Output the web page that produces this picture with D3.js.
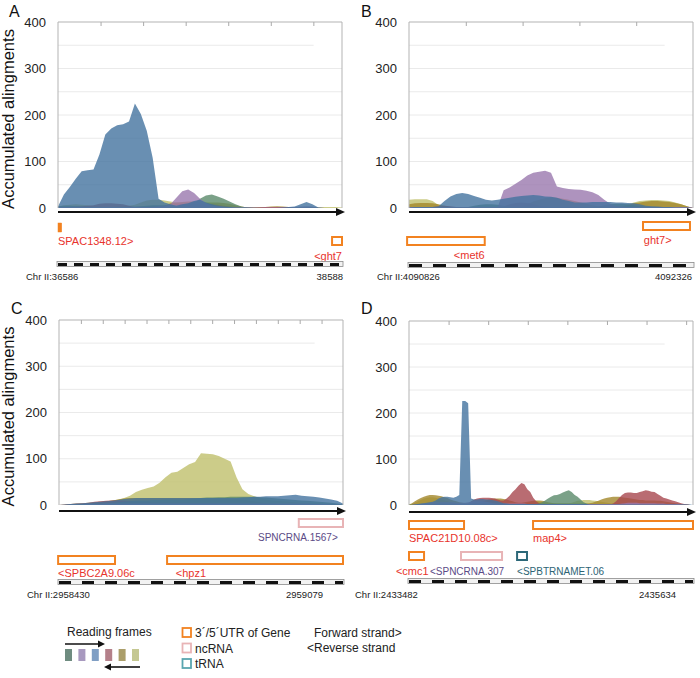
<!DOCTYPE html>
<html><head><meta charset="utf-8">
<script src="https://cdn.jsdelivr.net/npm/d3@7"></script>
<style>body{margin:0;background:#fff}svg{display:block;font-family:"Liberation Sans",Arial,sans-serif}</style>
</head><body><svg id="chart" width="700" height="678"></svg>
<script>
// ---------------- DATA ----------------
const frameNames = ["+1","+2","+3","-1","-2","-3"];
const yTicks = [0,100,200,300,400];
const gridValues = [50,100,150,200,250,300,350];

// Panel A (Chr II:36586-38588), 49 bins
const greenA  = [4,5,5,4,3,2,2,2,2,2,2,2,2,3,4,5,6,6,6,6,6,7,8,12,20,27,29,25,20,14,8,3,1,1,0,0,0,0,0,0,1,1,1,1,0,0,0,0,0];
const purpleA = [2,2,2,2,2,2,2,2,2,2,2,2,2,2,2,2,2,3,4,8,22,36,40,32,20,10,5,3,2,1,1,1,1,1,1,1,1,1,1,1,2,3,4,3,1,0,0,0,0];
const blueA   = [3,29,45,63,79,81,83,115,158,171,178,180,186,225,202,166,108,20,12,8,5,8,10,15,18,12,8,5,3,2,1,1,1,0,0,0,0,0,1,2,3,8,13,8,1,0,0,0,0];
const redA    = [1,1,2,3,4,5,6,9,10,10,9,8,5,2,2,2,3,4,5,6,7,8,8,9,9,8,8,7,5,3,2,1,1,1,1,2,2,2,2,2,1,1,1,0,0,0,0,0,0];
const oliveA  = [1,1,2,2,2,2,2,2,2,2,2,2,2,2,3,4,5,5,5,10,12,13,14,14,13,12,12,12,11,9,6,3,1,1,2,2,3,4,3,2,1,1,1,1,0,0,0,0,0];
const yellowA = [3,6,7,8,7,6,4,3,2,2,3,4,5,7,12,16,18,18,16,14,12,10,9,8,8,8,7,6,5,4,3,2,1,1,1,1,1,1,1,1,1,1,1,2,2,2,2,2,1];

// Panel B (Chr II:4090826-4092326), 49 bins
const greenB  = [1,1,1,1,1,1,1,1,1,1,2,5,7,8,8,7,5,3,2,2,2,2,2,2,2,2,2,2,2,2,2,2,3,6,8,9,9,8,6,4,2,2,2,2,2,2,1,1,0];
const purpleB = [2,2,2,2,2,2,2,2,2,2,2,2,2,2,2,2,38,44,52,60,70,76,78,80,76,46,43,41,40,39,37,34,28,18,9,4,3,2,2,2,2,2,2,2,2,2,2,2,1];
const blueB   = [1,2,2,2,2,4,15,25,30,32,30,26,22,18,16,18,20,22,24,26,27,28,27,25,24,22,18,15,12,12,12,13,13,13,13,12,12,11,10,8,5,4,3,2,2,1,1,1,0];
const redB    = [1,1,1,1,2,3,5,4,2,1,1,1,1,1,1,2,4,8,11,12,11,8,5,3,2,2,2,2,1,1,1,1,1,1,1,1,1,1,1,1,1,1,1,1,1,1,1,1,0];
const oliveB  = [8,10,11,11,10,8,5,2,1,1,1,1,1,1,1,1,2,2,2,4,8,14,18,21,23,22,20,18,15,12,9,6,4,3,3,3,3,6,10,12,14,15,15,14,13,11,8,4,0];
const yellowB = [18,19,19,19,15,6,2,1,1,1,1,1,1,1,1,1,1,1,1,1,1,1,1,1,1,1,1,1,1,1,1,1,1,2,2,3,4,8,12,15,16,17,17,16,15,12,8,4,0];

// Panel C (Chr II:2958430-2959079), 49 bins
const greenC  = [0,0,1,1,2,2,3,3,4,5,6,7,8,9,10,10,11,11,12,12,12,12,13,14,15,16,16,17,17,18,18,18,18,18,17,16,15,14,13,12,11,10,9,8,7,6,5,3,1];
const purpleC = [0,0,1,1,1,2,2,2,3,3,3,3,3,3,3,3,3,3,3,3,3,3,3,3,3,3,3,3,3,3,3,3,3,3,3,3,3,3,3,3,3,3,3,2,2,2,1,1,0];
const blueC   = [0,1,2,3,4,5,6,7,8,9,11,13,14,15,15,15,15,15,15,15,15,15,15,15,15,15,15,15,15,15,15,16,17,18,18,19,19,19,20,21,22,20,19,18,16,14,12,9,3];
const redC    = [0,1,2,3,4,5,7,8,9,10,10,9,8,8,7,7,6,6,6,5,5,5,5,4,4,4,4,3,3,3,3,3,3,2,2,2,2,2,2,2,2,1,1,1,1,1,1,0,0];
const oliveC  = [0,0,1,1,2,3,4,6,8,10,12,14,15,15,15,15,15,15,15,15,15,15,15,15,15,15,15,15,15,14,13,12,10,8,6,4,3,2,2,2,2,1,1,1,1,1,1,0,0];
const yellowC = [0,1,2,3,4,5,6,7,8,9,12,15,20,28,33,37,40,48,60,70,72,80,88,93,112,111,110,106,100,94,60,34,24,19,15,12,10,9,8,7,6,5,4,3,3,2,2,1,0];

// Panel D (Chr II:2433482-2435634), 97 bins
const greenD  = [1,1,1,2,2,3,3,3,3,3, 3,3,3,3,2,2,2,2,2,2, 2,2,2,2,2,2,2,2,2,2, 2,2,2,2,2,2,2,2,2,2, 2,2,2,2,3,6,10,14,18,21, 22,24,27,30,32,28,22,18,12,6, 3,1,1,1,1,1,1,1,1,1, 1,1,1,1,1,1,1,1,1,1, 1,1,1,1,1,1,1,1,1,1, 1,1,1,1,0,0,0];
const purpleD = [0,0,1,1,2,3,4,5,6,6, 6,6,6,6,6,6,5,5,5,5, 6,7,8,8,8,8,7,6,5,4, 3,3,3,3,3,3,3,3,3,3, 2,2,2,2,2,2,2,2,2,2, 2,2,2,2,2,2,2,2,2,2, 2,2,2,2,2,2,2,2,2,2, 2,2,3,4,5,5,5,5,4,4, 4,4,4,4,3,3,3,2,2,2, 2,2,1,1,1,0,0];
const blueD   = [0,0,1,2,3,4,5,6,7,10, 14,17,18,18,17,16,18,22,226,226, 221,14,12,12,13,13,12,12,11,10, 8,6,4,3,2,2,2,2,2,2, 2,2,2,2,2,2,2,2,2,2, 2,2,2,2,2,2,2,2,2,2, 2,1,1,1,1,1,1,1,1,1, 1,1,1,1,1,1,1,1,1,1, 1,1,1,1,1,1,1,1,1,1, 1,1,1,1,1,1,0];
const redD    = [0,0,1,1,1,1,1,1,1,1, 1,1,1,1,1,1,1,1,1,2, 3,8,12,14,15,16,16,16,15,14, 12,10,10,14,20,28,34,42,48,45, 34,28,16,8,4,2,1,1,1,1, 1,1,1,1,1,1,1,1,1,1, 1,1,1,1,1,1,1,1,1,3, 8,15,22,26,27,27,26,26,28,30, 32,31,29,28,24,20,16,14,12,10, 8,6,4,2,1,0,0];
const oliveD  = [1,4,8,12,15,18,20,22,22,21, 20,19,17,15,12,10,8,6,5,4, 3,3,4,5,6,8,10,12,13,14, 14,14,13,12,10,8,6,5,5,6, 7,8,9,10,10,9,8,6,5,4, 3,3,3,3,3,3,3,3,3,3, 3,4,5,7,9,12,14,16,17,18, 18,18,17,16,15,14,13,12,11,11, 10,10,10,10,9,9,8,7,6,5, 4,3,2,1,1,0,0];
const yellowD = [0,2,5,8,11,14,16,17,17,16, 14,12,10,8,6,5,4,3,2,2, 2,2,2,2,2,2,2,2,2,2, 2,2,2,2,2,2,2,2,2,3, 5,7,8,8,7,6,5,4,4,4, 4,4,4,4,4,5,7,9,10,11, 11,11,10,9,8,7,6,5,4,3, 3,3,3,3,3,3,3,3,3,3, 3,3,3,3,3,3,2,2,2,2, 2,2,1,1,1,0,0];

// Genomic ranges
const chromStarts = [36586, 4090826, 2958430, 2433482];
const chromEnds   = [38588, 4092326, 2959079, 2435634];

// Annotations (genomic start/end)
const genesA = [
  {label:"SPAC1348.12>", type:"utr", start:36586, end:36612},
  {label:"<ght7", type:"utr", start:38518, end:38588}
];
const genesB = [
  {label:"<met6", type:"utr", start:4090816, end:4091226},
  {label:"ght7>", type:"utr", start:4092062, end:4092310}
];
const genesC = [
  {label:"SPNCRNA.1567>", type:"ncrna", start:2958978, end:2959079},
  {label:"<SPBC2A9.06c", type:"utr", start:2958428, end:2958558},
  {label:"<hpz1", type:"utr", start:2958677, end:2959079}
];
const genesD = [
  {label:"SPAC21D10.08c>", type:"utr", start:2433482, end:2433899},
  {label:"map4>", type:"utr", start:2434422, end:2435634},
  {label:"<cmc1", type:"utr", start:2433482, end:2433596},
  {label:"<SPNCRNA.307", type:"ncrna", start:2433876, end:2434187},
  {label:"<SPBTRNAMET.06", type:"trna", start:2434301, end:2434376}
];

// ---------------- LAYOUT / STYLE ----------------
const frameColors = ["#5a8a6a","#9a78ae","#44739f","#a8474f","#a3872a","#bfbf6c"];
const legendColors = ["#6f8c80","#a899bf","#809fc4","#b4808a","#ab9e6a","#c5c892"];
const drawOrder = [5,4,3,0,1,2];
const typeStyle = {
  utr:{stroke:"#f28220", text:"#e8332c", size:11},
  ncrna:{stroke:"#e8b4b6", text:"#5b4a86", size:10},
  trna:{stroke:"#2c6878", text:"#2d6474", size:10}
};

const panels = [
  {letter:"A", lx:9, ly:17, left:58, right:342, y0:208, yTop:22, arrowY:212, barY:264, coordY:280, chrX:26, endX:343, title:true, tickStep:300, dash:"9,7",
   series:[greenA,purpleA,blueA,redA,oliveA,yellowA], genes:genesA,
   lay:[{by:223,bh:9,ty:245,anchor:"start",at:"start"},{by:237,bh:8,ty:260,anchor:"end",at:"end"}]},
  {letter:"B", lx:361, ly:17, left:409, right:693, y0:208, yTop:22, arrowY:212, barY:265, coordY:280, chrX:377, endX:692, title:false, tickStep:300, dash:"13,11",
   series:[greenB,purpleB,blueB,redB,oliveB,yellowB], genes:genesB,
   lay:[{by:237,bh:8,ty:259,anchor:"end",at:"end"},{by:222,bh:8,ty:244,anchor:"start",at:4092066}]},
  {letter:"C", lx:11, ly:314, left:59, right:343, y0:505, yTop:320, arrowY:511, barY:582, coordY:598, chrX:27, endX:323, title:true, tickStep:50, dash:"12,11",
   series:[greenC,purpleC,blueC,redC,oliveC,yellowC], genes:genesC,
   lay:[{by:519,bh:8,ty:541,anchor:"end",at:2959067},{by:556,bh:8,ty:577,anchor:"start",at:"start"},{by:556,bh:8,ty:577,anchor:"start",at:2958697}]},
  {letter:"D", lx:361, ly:314, left:409, right:693, y0:505, yTop:321, arrowY:512, barY:581, coordY:598, chrX:355, endX:676, title:false, tickStep:300, dash:"12,11",
   series:[greenD,purpleD,blueD,redD,oliveD,yellowD], genes:genesD,
   lay:[{by:521,bh:8,ty:542,anchor:"start",at:"start"},{by:521,bh:8,ty:542,anchor:"start",at:"start"},
        {by:552,bh:8,ty:575,anchor:"start",at:2433383},{by:552,bh:8,ty:575,anchor:"start",at:2433641},{by:552,bh:8,ty:575,anchor:"start",at:"start"}]}
];

const svg = d3.select("#chart");
svg.append("rect").attr("width",700).attr("height",678).attr("fill","#fff");

panels.forEach((p, pi) => {
  const gStart = chromStarts[pi], gEnd = chromEnds[pi];
  const N = p.series[0].length;
  const x = d3.scaleLinear().domain([0, N-1]).range([p.left, p.right]);
  const gx = d3.scaleLinear().domain([gStart, gEnd]).range([p.left, p.right]);
  const y = d3.scaleLinear().domain([0, 400]).range([p.y0, p.yTop]);
  const G = svg.append("g");
  const W = p.right - p.left;

  // gridlines
  G.append("g").selectAll("line").data(gridValues).join("line")
    .attr("x1", p.left).attr("x2", d => d === 350 ? p.left + W*0.9 : p.right)
    .attr("y1", d => y(d)).attr("y2", d => y(d))
    .attr("stroke", "#e4e4e4").attr("stroke-width", 0.8);

  // areas
  const area = d3.area().x((d,i)=>x(i)).y0(y(0)).y1(d=>y(d)).curve(d3.curveLinear);
  drawOrder.forEach(k => {
    G.append("path").datum(p.series[k]).attr("d", area)
      .attr("fill", frameColors[k]).attr("fill-opacity", 0.8);
  });

  // frame
  G.append("path").attr("d", `M${p.left},${y(0)}V${y(400)}H${p.right}V${y(0)}`)
    .attr("fill","none").attr("stroke","#b3b3b3").attr("stroke-width",1);
  // top ticks
  const tv = d3.range(gStart + p.tickStep, gEnd, p.tickStep);
  G.append("g").attr("transform", `translate(0,${y(400)})`)
    .call(d3.axisBottom(gx).tickValues(tv).tickSize(4).tickFormat(""))
    .call(s => { s.select(".domain").remove(); s.selectAll("line").attr("stroke","#aaa"); });

  // y axis
  G.append("g").attr("transform", `translate(${p.left-12},0)`)
    .call(d3.axisLeft(y).tickValues(yTicks).tickSize(0).tickPadding(0))
    .call(s => { s.select(".domain").remove();
      s.selectAll("text").attr("font-size", 13).attr("fill","#222")
       .attr("font-family","'Liberation Sans',Arial,sans-serif"); });

  // arrow
  G.append("line").attr("x1", p.left).attr("x2", p.right - 4).attr("y1", p.arrowY).attr("y2", p.arrowY)
    .attr("stroke","#111").attr("stroke-width",2);
  G.append("path").attr("d", `M${p.right-6},${p.arrowY-4}L${p.right+3},${p.arrowY}L${p.right-6},${p.arrowY+4}Z`).attr("fill","#111");

  // genes
  p.genes.forEach((gn, j) => {
    const L = p.lay[j], st = typeStyle[gn.type];
    const x0 = gx(gn.start), x1 = gx(gn.end);
    const narrow = (x1 - x0) < 6;
    G.append("rect").attr("x", x0).attr("y", L.by).attr("width", x1 - x0).attr("height", L.bh)
      .attr("fill", narrow ? st.stroke : "#fff").attr("stroke", st.stroke).attr("stroke-width", narrow ? 0.5 : 2);
    const lxp = L.at === "start" ? x0 : L.at === "end" ? x1 : gx(L.at);
    G.append("text").attr("x", lxp).attr("y", L.ty).attr("text-anchor", L.anchor)
      .attr("font-size", st.size).attr("fill", st.text).text(gn.label);
  });

  // scale bar
  G.append("rect").attr("x", p.left-1).attr("y", p.barY-2.5).attr("width", W+2).attr("height", 5)
    .attr("fill","#f2f2f2").attr("stroke","#8a8a8a").attr("stroke-width",0.8);
  G.append("line").attr("x1", p.left).attr("x2", p.right).attr("y1", p.barY+0.5).attr("y2", p.barY+0.5)
    .attr("stroke","#111").attr("stroke-width",3).attr("stroke-dasharray", p.dash);

  // coordinates
  G.append("text").attr("x", p.chrX).attr("y", p.coordY).attr("font-size", 9.5).attr("fill","#222")
    .text("Chr II:" + gStart);
  G.append("text").attr("x", p.endX).attr("y", p.coordY).attr("font-size", 9.5).attr("fill","#222")
    .attr("text-anchor","end").text(gEnd);

  // letter
  G.append("text").attr("x", p.lx).attr("y", p.ly).attr("font-size", 16).attr("fill","#111").text(p.letter);

  // y title
  if (p.title) {
    G.append("text").attr("transform", `translate(14,${(p.y0 + p.yTop)/2 + 4}) rotate(-90)`)
      .attr("text-anchor","middle").attr("font-size", 16.5).attr("fill","#111").text("Accumulated alingments");
  }
});

// ---------------- LEGEND ----------------
const Lg = svg.append("g").attr("font-size", 12).attr("fill","#222");
Lg.append("text").attr("x", 67).attr("y", 636).text("Reading frames");
Lg.append("line").attr("x1",65).attr("x2",99).attr("y1",644).attr("y2",644).attr("stroke","#111").attr("stroke-width",1.6);
Lg.append("path").attr("d","M98,640.5L105,644L98,647.5Z").attr("fill","#111");
Lg.selectAll("rect.rf").data(frameNames).join("rect").attr("class","rf")
  .attr("x",(d,i)=>65 + i*13.4).attr("y",649).attr("width",7).attr("height",12)
  .attr("fill",(d,i)=>legendColors[i]);
Lg.append("line").attr("x1",140).attr("x2",110).attr("y1",667).attr("y2",667).attr("stroke","#111").attr("stroke-width",1.6);
Lg.append("path").attr("d","M111,663.5L104,667L111,670.5Z").attr("fill","#111");

const legItems = [
  {type:"utr", text:"3´/5´UTR of Gene", stroke:"#f28220"},
  {type:"ncrna", text:"ncRNA", stroke:"#e8b4b6"},
  {type:"trna", text:"tRNA", stroke:"#5aa6b0"}
];
legItems.forEach((d,i) => {
  const yy = 628 + i*15.5;
  Lg.append("rect").attr("x",182.5).attr("y",yy).attr("width",8.5).attr("height",9)
    .attr("fill","#fff").attr("stroke",d.stroke).attr("stroke-width",1.8);
  Lg.append("text").attr("x",195).attr("y",yy+9).text(d.text);
});
Lg.append("text").attr("x",314).attr("y",637).text("Forward strand>");
Lg.append("text").attr("x",307).attr("y",652).text("<Reverse strand");
</script></body></html>
